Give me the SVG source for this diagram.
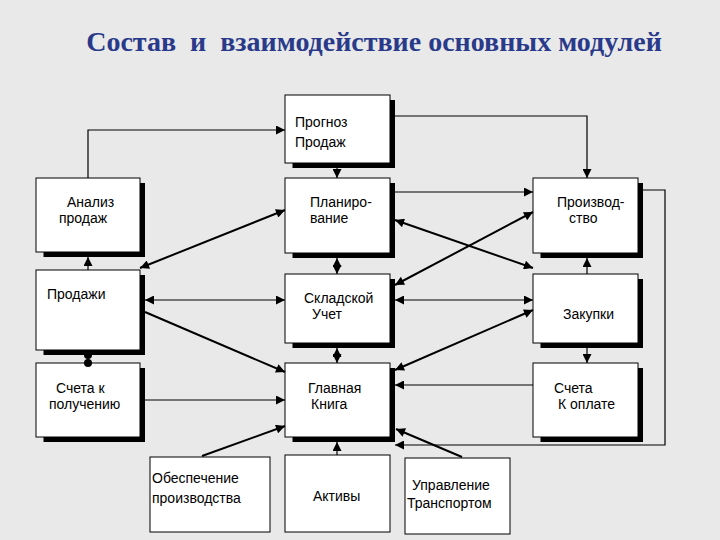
<svg xmlns="http://www.w3.org/2000/svg" width="720" height="540" viewBox="0 0 720 540">
<style>
.b{fill:#fff;stroke:#000;stroke-width:1}
.sh{fill:none;stroke:#000;stroke-width:5}
.t{font-family:"Liberation Sans",Arial,sans-serif;font-size:14px;fill:#000}
.c{fill:none;stroke:#000;stroke-width:1.2}
.d{stroke-width:2}
</style>
<defs>
<marker id="a" viewBox="0 0 10 10" refX="10" refY="5" markerWidth="11" markerHeight="9" markerUnits="userSpaceOnUse" orient="auto-start-reverse"><path d="M0,0L10,5L0,10z"/></marker>
<marker id="o" viewBox="0 0 10 10" refX="5" refY="5" markerWidth="8" markerHeight="8" markerUnits="userSpaceOnUse"><circle cx="5" cy="5" r="5"/></marker>
</defs>
<rect width="720" height="540" fill="#e9e9e9"/>
<text x="374" y="51" text-anchor="middle" font-family="'Liberation Serif',serif" font-size="28" font-weight="bold" fill="#2a3a8a" xml:space="preserve">Состав  и  взаимодействие основных модулей</text>
<g id="n1"><path class="sh" d="M292.5,165.5H392.5V100"/><rect class="b" x="285" y="95" width="105" height="68"/><text class="t" x="295" y="127">Прогноз</text><text class="t" x="295" y="147">Продаж</text></g>
<g id="n2"><path class="sh" d="M43.5,254.5H142.5V183"/><rect class="b" x="36" y="178" width="104" height="74"/><text class="t" x="67" y="207">Анализ</text><text class="t" x="59" y="223">продаж</text></g>
<g id="n3"><path class="sh" d="M292.5,255.5H392.5V183"/><rect class="b" x="285" y="178" width="105" height="75"/><text class="t" x="310" y="207">Планиро-</text><text class="t" x="310" y="223">вание</text></g>
<g id="n4"><path class="sh" d="M540.5,255.5H640.5V183"/><rect class="b" x="533" y="178" width="105" height="75"/><text class="t" x="557" y="207">Производ-</text><text class="t" x="569" y="223">ство</text></g>
<g id="n5"><path class="sh" d="M43.5,352.5H142.5V275"/><rect class="b" x="36" y="270" width="104" height="80"/><text class="t" x="47" y="299">Продажи</text></g>
<g id="n6"><path class="sh" d="M292.5,345.5H392.5V279"/><rect class="b" x="285" y="274" width="105" height="69"/><text class="t" x="304" y="303">Складской</text><text class="t" x="312" y="319">Учет</text></g>
<g id="n7"><path class="sh" d="M540.5,345.5H640.5V279"/><rect class="b" x="533" y="274" width="105" height="69"/><text class="t" x="563" y="319">Закупки</text></g>
<g id="n8"><path class="sh" d="M43.5,439.5H142.5V368"/><rect class="b" x="36" y="363" width="104" height="74"/><text class="t" x="56" y="393">Счета к</text><text class="t" x="49" y="409">получению</text></g>
<g id="n9"><path class="sh" d="M292.5,439.5H392.5V368"/><rect class="b" x="285" y="363" width="105" height="74"/><text class="t" x="308" y="393">Главная</text><text class="t" x="311" y="409">Книга</text></g>
<g id="n10"><path class="sh" d="M540.5,439.5H640.5V368"/><rect class="b" x="533" y="363" width="105" height="74"/><text class="t" x="554" y="393">Счета</text><text class="t" x="558" y="409">К оплате</text></g>
<g id="n11"><rect class="b" x="150" y="457" width="120" height="75"/><text class="t" x="152" y="483">Обеспечение</text><text class="t" x="152" y="503">производства</text></g>
<g id="n12"><rect class="b" x="285" y="455" width="105" height="77"/><text class="t" x="313" y="501">Активы</text></g>
<g id="n13"><rect class="b" x="405" y="458" width="105" height="76"/><text class="t" x="412" y="490">Управление</text><text class="t" x="407" y="508">Транспортом</text></g>
<g id="connectors">
<path class="c" d="M88,178V130H285" marker-end="url(#a)"/>
<path class="c" d="M395,116H587V178" marker-end="url(#a)"/>
<path class="c" d="M337,168V178" marker-end="url(#a)"/>
<path class="c" d="M395,192H533" marker-end="url(#a)"/>
<path class="c d" d="M285,210L140,268" marker-start="url(#a)" marker-end="url(#a)"/>
<path class="c d" d="M395,220L533,268" marker-start="url(#a)" marker-end="url(#a)"/>
<path class="c d" d="M533,212L395,285" marker-start="url(#a)" marker-end="url(#a)"/>
<path class="c" d="M337,258V274" marker-start="url(#a)" marker-end="url(#a)"/>
<path class="c" d="M88,270V257" marker-end="url(#a)"/>
<path class="c" d="M587,274V258" marker-end="url(#a)"/>
<path class="c" d="M145,300H285" marker-start="url(#a)" marker-end="url(#a)"/>
<path class="c" d="M395,300H533" marker-start="url(#a)" marker-end="url(#a)"/>
<path class="c d" d="M145,312L285,372" marker-end="url(#a)"/>
<path class="c d" d="M533,310L395,370" marker-start="url(#a)" marker-end="url(#a)"/>
<path class="c" d="M88,355V363" marker-start="url(#o)" marker-end="url(#o)"/>
<path class="c" d="M337,348V363" marker-start="url(#a)" marker-end="url(#a)"/>
<path class="c" d="M587,348V363" marker-end="url(#a)"/>
<path class="c" d="M145,400H285" marker-end="url(#a)"/>
<path class="c" d="M533,385H395" marker-end="url(#a)"/>
<path class="c" d="M643,190H665V445H395" marker-end="url(#a)"/>
<path class="c d" d="M202,456L285,426" marker-end="url(#a)"/>
<path class="c" d="M337,455V442" marker-end="url(#a)"/>
<path class="c d" d="M462,457L396,429" marker-end="url(#a)"/>
</g>
</svg>
